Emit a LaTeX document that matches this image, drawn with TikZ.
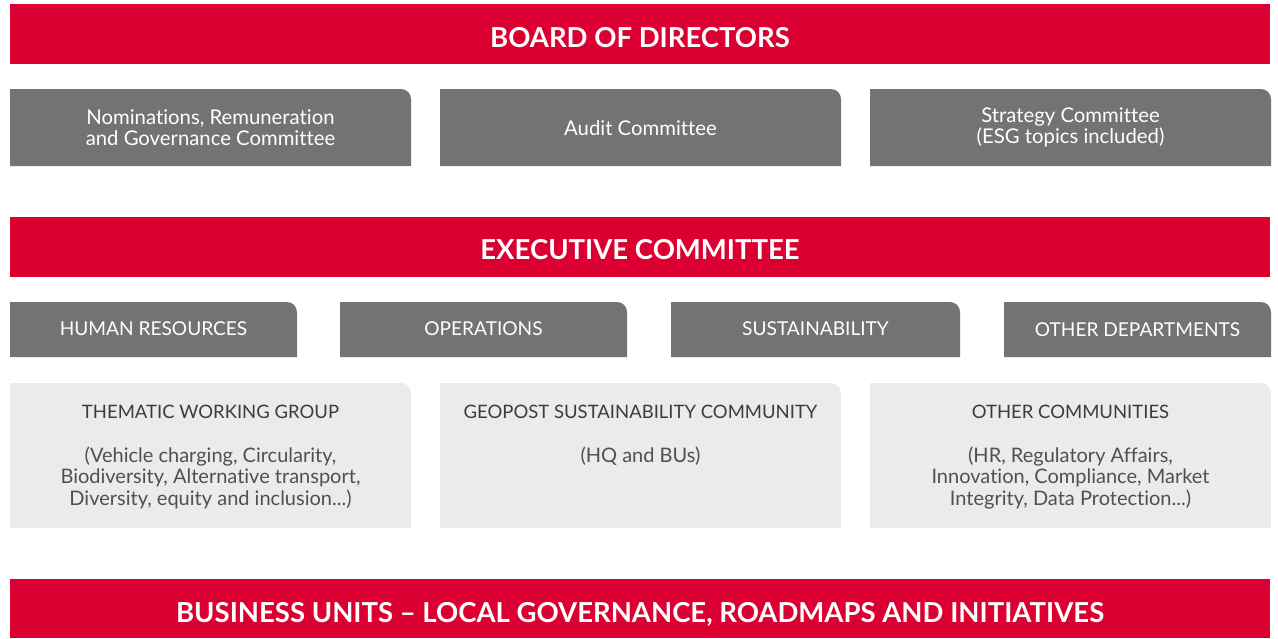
\documentclass[tikz,border=0pt]{standalone}
\usepackage{fontspec}
\setmainfont{Lato}[Ligatures={NoCommon}]
\definecolor{dpdred}{HTML}{DC0032}
\definecolor{boxgray}{HTML}{737373}
\definecolor{lightgray}{HTML}{EBEBEB}
\definecolor{titlegray}{HTML}{3C3C3C}
\definecolor{textgray}{HTML}{505050}
\tikzset{
  headtext/.style={text=white,font=\fontsize{27.5}{33}\selectfont\bfseries},
  committext/.style={text=white,align=center,font=\fontsize{20.3}{21}\selectfont},
  depttext/.style={text=white,font=\fontsize{19.1}{22}\selectfont},
  grouptext/.style={text=textgray,align=center,anchor=north,font=\fontsize{20}{21.5}\selectfont},
}
% box with one rounded corner (top right)
\newcommand{\tabbox}[5]{%
  \fill[#5] (#1,#4) -- (#1,#2) [rounded corners=10pt] -- (#3,#2) [sharp corners] -- (#3,#4) -- cycle;}
\newcommand{\grouptitle}[1]{{\fontsize{18.5}{21.5}\selectfont\textcolor{titlegray}{#1}}}
\begin{document}
\begin{tikzpicture}[x=1pt,y=-1pt]
    \useasboundingbox (0,0) rectangle (1278,638);
    % Board of directors
    \fill[dpdred] (10,4) rectangle (1270,64);
    \node[headtext] (board) at (640,38) {BOARD OF DIRECTORS};
    % Comites del consejo
    \tabbox{10}{89}{411}{166}{boxgray}
    \node[committext] (nomin) at (210.5,127.5) {Nominations, Remuneration\\and Governance Committee};
    \tabbox{440}{89}{841}{166}{boxgray}
    \node[committext] (audit) at (640.5,128) {Audit Committee};
    \tabbox{870}{89}{1271}{166}{boxgray}
    \node[committext] (strat) at (1070.5,127.5) {Strategy Committee\\(ESG topics included)};
    % Executive committee
    \fill[dpdred] (10,217) rectangle (1270,277);
    \node[headtext] (exec) at (640,250) {EXECUTIVE COMMITTEE};
    % Departamentos
    \tabbox{10}{302}{297}{357}{boxgray}
    \node[depttext] (hr) at (153.5,328.5) {HUMAN RESOURCES};
    \tabbox{340}{302}{627}{357}{boxgray}
    \node[depttext] (ops) at (483.5,328.5) {OPERATIONS};
    \tabbox{671}{302}{960}{357}{boxgray}
    \node[depttext] (sust) at (815.5,328.5) {SUSTAINABILITY};
    \tabbox{1004}{302}{1271}{357}{boxgray}
    \node[depttext] (other) at (1137.5,329.5) {OTHER DEPARTMENTS};
    % Grupos y comunidades
    \tabbox{10}{383}{411}{528}{lightgray}
    \node[grouptext] (thematic) at (210.5,402) {\grouptitle{THEMATIC WORKING GROUP}\\[22pt](Vehicle charging, Circularity,\\Biodiversity, Alternative transport,\\Diversity, equity and inclusion...)};
    \tabbox{440}{383}{841}{528}{lightgray}
    \node[grouptext] (geopost) at (640.5,402) {\grouptitle{GEOPOST SUSTAINABILITY COMMUNITY}\\[22pt](HQ and BUs)};
    \tabbox{870}{383}{1271}{528}{lightgray}
    \node[grouptext] (othercom) at (1070.5,402) {\grouptitle{OTHER COMMUNITIES}\\[22pt](HR, Regulatory Affairs,\\Innovation, Compliance, Market\\Integrity, Data Protection...)};
    % Business units
    \fill[dpdred] (10,579) rectangle (1270,638);
    \node[headtext] (bu) at (640,614) {BUSINESS UNITS -- LOCAL GOVERNANCE, ROADMAPS AND INITIATIVES};
\end{tikzpicture}
\end{document}
